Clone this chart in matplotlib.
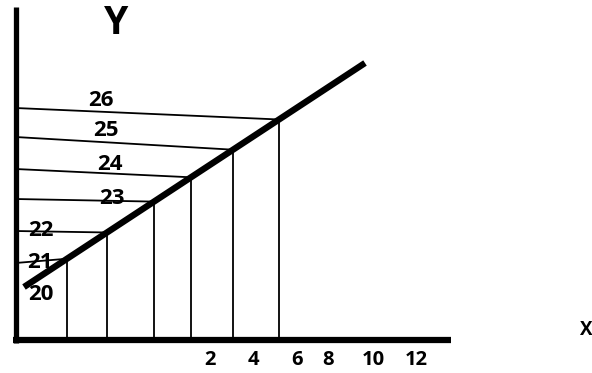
import matplotlib
matplotlib.use("Agg")
import numpy as np
import matplotlib.pyplot as plt

# schematic drawn in pixel-like units (0..592 wide, 0..373 tall, y grows downward)
axis_x = 15.5          # vertical Y axis position
axis_y = 340           # horizontal X axis position
line_start = (24, 287)  # thick rising line
line_end = (365, 63)

drop_x = [67, 107, 154, 191, 233, 279]          # vertical drop lines
level_y = [263, 231, 199, 169, 137, 108]        # where the level lines meet the Y axis
level_labels = ["21", "22", "23", "24", "25", "26"]
level_label_pos = [(40, 262), (41, 230), (112, 198), (110, 165), (106, 131), (101, 100)]

x_tick_labels = ["2", "4", "6", "8", "10", "12"]
x_tick_pos = [210, 253, 297, 328, 373, 416]


def on_line(x):
    (x0, y0), (x1, y1) = line_start, line_end
    return y0 + (y1 - y0) * (x - x0) / (x1 - x0)


fig = plt.figure(figsize=(5.92, 3.73), dpi=100)
ax = fig.add_axes([0, 0, 1, 1])
ax.set_xlim(0, 592)
ax.set_ylim(373, 0)
ax.axis("off")

font = ["Open Sans", "DejaVu Sans"]

# axes
ax.plot([axis_x, axis_x], [7, axis_y + 3], color="black", lw=3.8, solid_capstyle="butt")
ax.plot([axis_x - 2.5, 451], [axis_y, axis_y], color="black", lw=4.5, solid_capstyle="butt")

# drop lines and level lines
for x, y in zip(drop_x, level_y):
    yl = on_line(x)
    ax.plot([x, x], [yl, axis_y], color="black", lw=1.3)
    ax.plot([axis_x, x], [y, yl], color="black", lw=1.3)

# thick line
ax.plot([line_start[0], line_end[0]], [line_start[1], line_end[1]],
        color="black", lw=4.6, solid_capstyle="butt")

# labels
for lab, (x, y) in zip(level_labels, level_label_pos):
    ax.text(x, y, lab, fontsize=16, fontweight="bold", family=font, ha="center", va="center")
ax.text(41, 295, "20", fontsize=16, fontweight="bold", family=font, ha="center", va="center")

for lab, x in zip(x_tick_labels, x_tick_pos):
    ax.text(x, 360, lab, fontsize=14.5, fontweight="bold", family=font, ha="center", va="center")

ax.text(116, 24, "Y", fontsize=28, fontweight="bold", family=font, ha="center", va="center")
ax.text(580, 330, "X", fontsize=13.5, fontweight="bold", family=font, ha="left", va="center")

fig.savefig("out.png", dpi=100)
